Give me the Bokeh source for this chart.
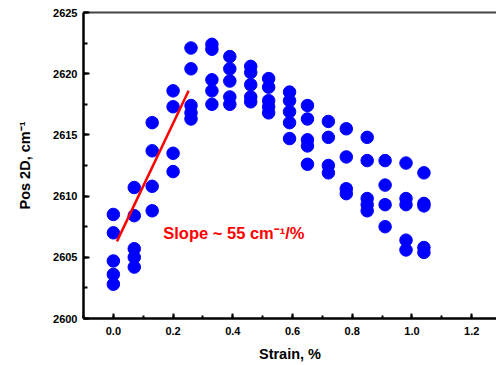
from bokeh.plotting import figure
from bokeh.models import Range1d, SingleIntervalTicker, NumeralTickFormatter, LinearAxis, Label, FixedTicker
from bokeh.embed import file_html
from bokeh.resources import INLINE

# Data
strain = [
    0.0, 0.0, 0.0, 0.0, 0.0,
    0.07, 0.07, 0.07, 0.07, 0.07,
    0.13, 0.13, 0.13, 0.13,
    0.2, 0.2, 0.2, 0.2,
    0.26, 0.26, 0.26, 0.26, 0.26,
    0.33, 0.33, 0.33, 0.33, 0.33,
    0.39, 0.39, 0.39, 0.39, 0.39,
    0.46, 0.46, 0.46, 0.46, 0.46,
    0.52, 0.52, 0.52, 0.52, 0.52,
    0.59, 0.59, 0.59, 0.59, 0.59,
    0.65, 0.65, 0.65, 0.65, 0.65,
    0.72, 0.72, 0.72, 0.72,
    0.78, 0.78, 0.78, 0.78,
    0.85, 0.85, 0.85, 0.85, 0.85,
    0.91, 0.91, 0.91, 0.91,
    0.98, 0.98, 0.98, 0.98, 0.98,
    1.04, 1.04, 1.04, 1.04, 1.04,
]
pos_2d = [
    2608.5, 2607.0, 2604.7, 2603.6, 2602.8,
    2610.7, 2608.4, 2605.7, 2605.0, 2604.2,
    2616.0, 2613.7, 2610.8, 2608.8,
    2618.6, 2617.3, 2613.5, 2612.0,
    2622.1, 2620.4, 2617.4, 2616.8, 2616.3,
    2622.4, 2622.0, 2619.5, 2618.6, 2617.5,
    2621.4, 2620.4, 2619.4, 2618.1, 2617.5,
    2620.6, 2620.1, 2619.1, 2618.1, 2617.7,
    2619.6, 2618.9, 2617.8, 2617.3, 2616.8,
    2618.5, 2617.8, 2616.9, 2616.0, 2614.7,
    2617.4, 2616.3, 2614.6, 2614.1, 2612.6,
    2616.1, 2614.8, 2612.5, 2611.9,
    2615.5, 2613.2, 2610.6, 2610.2,
    2614.8, 2612.9, 2609.8, 2609.3, 2608.8,
    2612.9, 2610.9, 2609.3, 2607.5,
    2612.7, 2609.8, 2609.3, 2606.4, 2605.6,
    2611.9, 2609.4, 2609.2, 2605.8, 2605.4,
]
fit_strain = [0.012, 0.252]
fit_pos = [2606.3, 2618.6]

slope_text = "Slope ~ 55 cm\u207b\u00b9/%"
x_title = "Strain, %"
y_title = "Pos 2D, cm\u207b\u00b9"

FONT = "Liberation Sans"

p = figure(width=496, height=365,
           x_range=Range1d(-0.1, 1.283), y_range=Range1d(2600, 2625),
           output_backend="svg", toolbar_location=None,
           min_border_left=83, min_border_right=0,
           min_border_top=12, min_border_bottom=47)
p.outline_line_color = None
p.grid.visible = False

p.scatter(strain, pos_2d, size=12.5, color="#0000FF", line_color="#0000FF")
p.line(fit_strain, fit_pos, line_color="#FF0000", line_width=2.5)

p.add_layout(Label(x=0.167, y=2607.0, text=slope_text, text_color="#FF0000",
                   text_font=FONT, text_font_style="bold", text_font_size="16.5px",
                   text_baseline="middle"))

xa = p.xaxis[0]
xa.ticker = SingleIntervalTicker(interval=0.2, num_minor_ticks=2)
xa.formatter = NumeralTickFormatter(format="0.0")
ya = p.yaxis[0]
ya.ticker = SingleIntervalTicker(interval=5, num_minor_ticks=2)
ya.formatter = NumeralTickFormatter(format="0")

for ax in (xa, ya):
    ax.axis_line_width = 2.5
    ax.axis_line_color = "black"
    ax.major_tick_line_width = 2
    ax.minor_tick_line_width = 2
    ax.major_tick_out = 0
    ax.minor_tick_out = 0
    ax.major_label_text_font = FONT
    ax.major_label_text_font_style = "bold"
    ax.major_label_text_font_size = "11px"
    ax.major_label_text_color = "black"
    ax.axis_label_text_font = FONT
    ax.axis_label_text_font_style = "bold"
    ax.axis_label_text_font_size = "14.5px"
    ax.axis_label_text_color = "black"

xa.major_tick_in = 5
xa.minor_tick_in = 3
xa.major_label_standoff = 8
xa.axis_label = x_title
xa.axis_label_standoff = 8

ya.major_tick_in = 6
ya.minor_tick_in = 4
ya.major_label_standoff = 6
ya.axis_label = y_title
ya.axis_label_standoff = 17

top = LinearAxis(ticker=FixedTicker(ticks=[]), major_tick_in=0, major_tick_out=0,
                 minor_tick_in=0, minor_tick_out=0, axis_line_width=2,
                 axis_line_color="#444444")
p.add_layout(top, "above")

open("out.html", "w").write(file_html(p, INLINE))
